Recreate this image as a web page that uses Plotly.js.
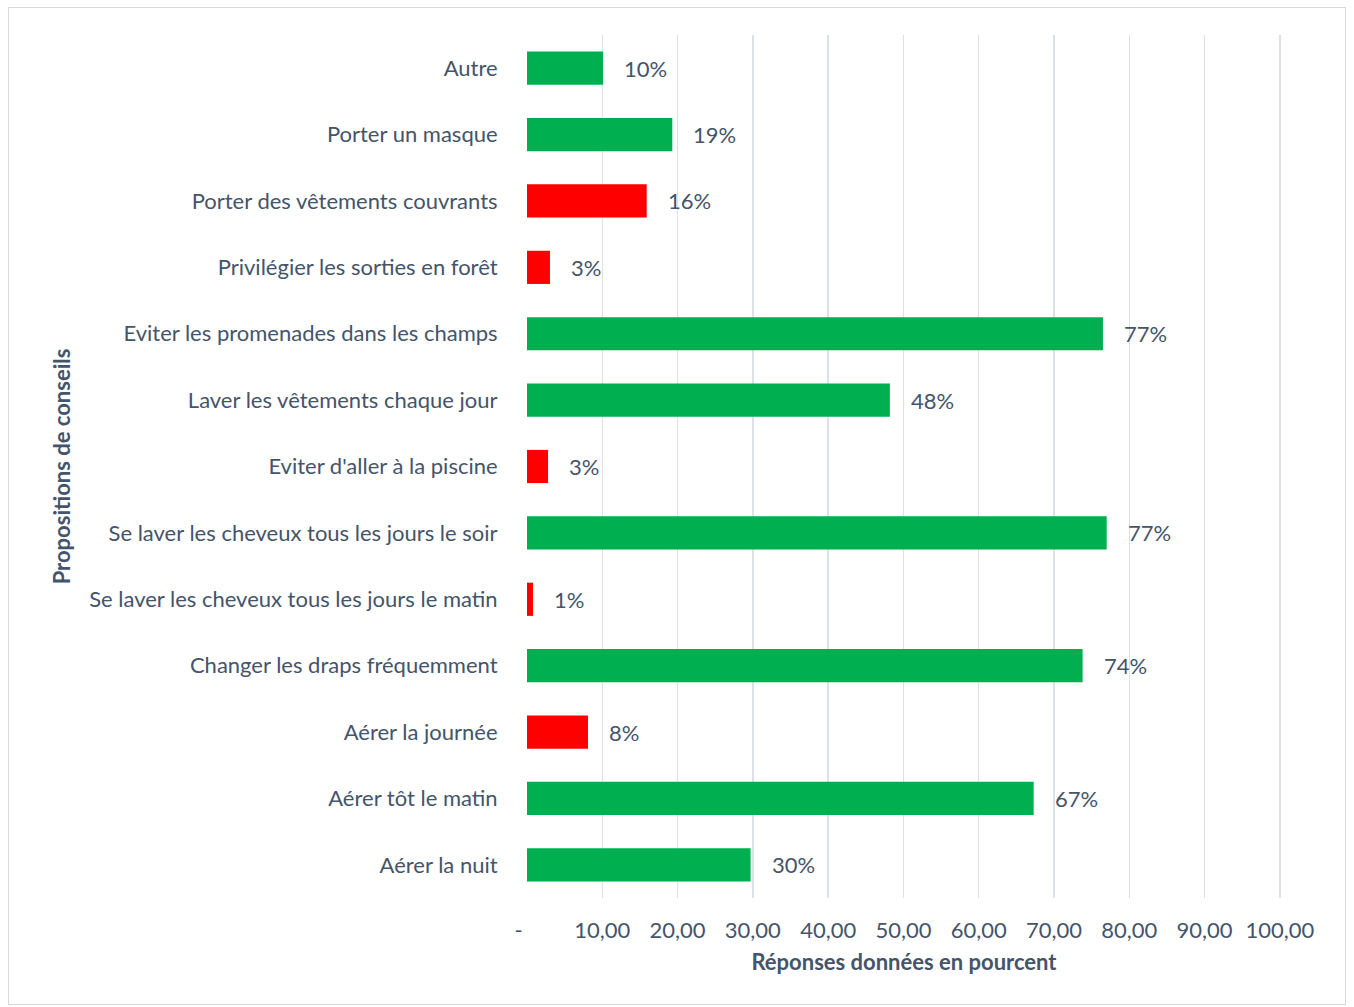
<!DOCTYPE html>
<html>
<head>
<meta charset="utf-8">
<script src="https://cdn.plot.ly/plotly-3.0.1.min.js"></script>
<style>
html,body{margin:0;padding:0;background:#fff;}
#chart{width:1354px;height:1007px;}
#frame{position:absolute;left:8px;top:7px;width:1338px;height:998px;border:1px solid #D9D9D9;pointer-events:none;box-sizing:border-box;}
</style>
</head>
<body>
<div id="chart"></div>
<div id="frame"></div>
<script>
const categories = [
  "Aérer la nuit",
  "Aérer tôt le matin",
  "Aérer la journée",
  "Changer les draps fréquemment",
  "Se laver les cheveux tous les jours le matin",
  "Se laver les cheveux tous les jours le soir",
  "Eviter d'aller à la piscine",
  "Laver les vêtements chaque jour",
  "Eviter les promenades dans les champs",
  "Privilégier les sorties en forêt",
  "Porter des vêtements couvrants",
  "Porter un masque",
  "Autre"
];
const values = [29.7, 67.3, 8.1, 73.8, 0.8, 77.0, 2.8, 48.2, 76.5, 3.05, 15.9, 19.3, 10.1];
const labels = ["30%", "67%", "8%", "74%", "1%", "77%", "3%", "48%", "77%", "3%", "16%", "19%", "10%"];
const recommended = [true, true, false, true, false, true, false, true, true, false, false, true, true];
const tickVals = [0, 10, 20, 30, 40, 50, 60, 70, 80, 90, 100];
const tickText = ["-&nbsp;&nbsp;&nbsp;", "10,00", "20,00", "30,00", "40,00", "50,00", "60,00", "70,00", "80,00", "90,00", "100,00"];

const GREEN = "#00B050", RED = "#FF0000", TXT = "#44546A";
const FONT = "Lato, 'Open Sans', sans-serif";
const FS = 22;

const trace = {
  type: "bar",
  orientation: "h",
  y: categories,
  x: values,
  marker: {color: recommended.map(r => r ? GREEN : RED)},
  hoverinfo: "none"
};

const annotations = categories.map((c, i) => ({
  x: values[i], y: c, xref: "x", yref: "y",
  text: labels[i], showarrow: false, xanchor: "left", xshift: 19,
  font: {family: FONT, size: FS, color: TXT}
}));

const layout = {
  width: 1354, height: 1007,
  margin: {l: 527, r: 73, t: 35, b: 109},
  paper_bgcolor: "#fff", plot_bgcolor: "#fff",
  bargap: 0.5,
  showlegend: false,
  font: {family: FONT, size: FS, color: TXT},
  xaxis: {
    range: [0, 100.15],
    tickvals: tickVals, ticktext: tickText,
    showgrid: true, gridcolor: "#DCE1E8", gridwidth: 1.5,
    zeroline: false, showline: false,
    ticks: "", ticklen: 0,
    ticklabelstandoff: 17,
    tickfont: {family: FONT, size: FS, color: TXT},
    title: {text: "<b>Réponses données en pourcent</b>", font: {family: FONT, size: FS, color: TXT}, standoff: 12},
    fixedrange: true
  },
  yaxis: {
    type: "category",
    categoryorder: "array", categoryarray: categories,
    showgrid: false, zeroline: false, showline: false,
    ticks: "outside", ticklen: 24, tickcolor: "rgba(0,0,0,0)",
    tickfont: {family: FONT, size: FS, color: TXT},
    title: {text: "<b>Propositions de conseils</b>", font: {family: FONT, size: FS, color: TXT}, standoff: 12},
    automargin: false,
    fixedrange: true
  },
  annotations: annotations
};

Plotly.newPlot("chart", [trace], layout, {displayModeBar: false, staticPlot: true});
</script>
</body>
</html>
